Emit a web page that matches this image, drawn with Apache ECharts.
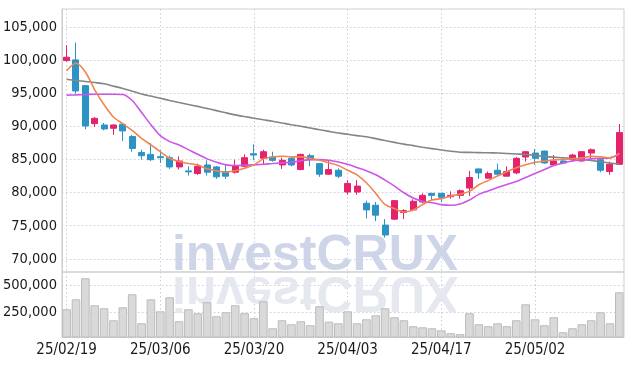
<!DOCTYPE html>
<html><head><meta charset="utf-8">
<script src="https://cdn.jsdelivr.net/npm/echarts@6/dist/echarts.min.js"></script>
<style>html,body{margin:0;padding:0;background:#fff}#c{width:634px;height:366px}</style>
</head><body><div id="c"></div>
<script>
const dates = ['25/02/19','25/02/20','25/02/21','25/02/24','25/02/25','25/02/26','25/02/27','25/02/28','25/03/04','25/03/05',
'25/03/06','25/03/07','25/03/10','25/03/11','25/03/12','25/03/13','25/03/14','25/03/17','25/03/18','25/03/19',
'25/03/20','25/03/21','25/03/24','25/03/25','25/03/26','25/03/27','25/03/28','25/03/31','25/04/01','25/04/02',
'25/04/03','25/04/04','25/04/07','25/04/08','25/04/09','25/04/10','25/04/11','25/04/14','25/04/15','25/04/16',
'25/04/17','25/04/18','25/04/21','25/04/22','25/04/23','25/04/24','25/04/25','25/04/28','25/04/29','25/04/30',
'25/05/02','25/05/07','25/05/08','25/05/09','25/05/12','25/05/13','25/05/14','25/05/15','25/05/16','25/05/19'];
const opens = [100000,100100,96200,90450,90250,89750,90350,88500,86100,85800,
85450,85300,83900,83300,82900,84200,83900,83200,83100,84000,
85900,85200,85400,84200,85200,83500,85600,84400,82800,83400,
80100,80100,78400,78100,75100,76000,77000,77400,78600,79900,
79900,79400,79600,80700,83600,82200,83400,82500,83000,85400,
86000,86300,84200,84800,85000,84800,86000,85000,83200,84300];
const closes = [100500,95400,90100,91250,89650,90250,89350,86700,85600,85000,
85300,83900,84800,83150,84000,83100,82400,82500,84100,85300,
85700,86200,84900,84900,84200,85800,85000,82800,83500,82500,
81400,81000,77400,76600,73600,78800,77300,78700,79600,79600,
79300,79600,80300,82300,83000,82900,82800,83200,85200,86200,
85200,84500,84800,84500,85700,86200,86500,83400,84300,89100];
const lows = [99800,95000,89600,89950,89450,88750,87850,86200,85000,84800,
84500,83600,83500,82600,82700,82600,82100,82100,82900,83900,
84900,84200,84700,83600,84000,83400,84000,82400,82700,82200,
79700,79700,76100,75700,73200,75900,76000,77200,78400,78900,
78600,79100,79100,79500,82100,82100,82700,82500,82800,84700,
84200,84400,84100,84300,84700,84700,84800,83100,82700,84200];
const highs = [102300,102700,96300,91450,90550,90350,90450,88750,86500,87500,
86400,85600,85500,84000,84400,84900,84000,84200,85000,85800,
87300,86500,86200,85300,85400,85900,85900,84500,84900,83700,
81900,81900,78800,78600,76000,78900,77500,79000,79900,79950,
80000,80200,80500,83300,83650,83200,84400,84000,85400,86300,
86600,86350,85700,85300,85900,86300,86700,85100,84700,90400];
const ma5 = [98460,99580,98270,95560,93300,91450,90440,89430,88230,87230,
86220,85210,84710,84410,84210,83610,83310,83100,83310,83700,
84210,85120,85420,85520,85420,85420,85210,84910,84520,84110,
83400,82710,81500,79900,78190,77590,77080,77380,78190,78890,
79100,79490,79790,80200,81200,81830,82530,83180,83770,84220,
84560,84790,84940,85040,85130,85270,85500,85420,85270,86000];
const ma10 = [94760,94800,94860,94910,94910,94910,94860,93950,92140,90290,
88630,87730,87230,86520,85810,85120,84610,84210,84110,84160,
84210,84310,84410,84520,84610,84820,85010,85010,84910,84660,
84310,83810,83310,82710,81900,81000,80000,79190,78690,78490,
78190,78090,78290,78890,79750,80270,80770,81240,81700,82300,
82900,83500,84110,84490,84790,84970,85120,85200,85270,85770];
const maLong = [97180,96990,96840,96670,96480,96130,95770,95360,94950,94620,
94290,93960,93640,93340,93060,92750,92420,92090,91780,91520,
91280,91040,90810,90540,90290,90050,89790,89530,89280,89040,
88840,88640,88460,88180,87890,87620,87350,87120,86880,86670,
86460,86270,86130,86100,86070,86040,86000,85940,85860,85790,
85650,85500,85380,85290,85170,85020,84870,84690,84490,84350];
const volumes = [275000,367000,562000,312000,284000,173000,293000,414000,145000,367000,
256000,386000,164000,275000,238000,340000,210000,247000,312000,238000,
192000,349000,99000,173000,136000,164000,127000,303000,160000,145000,
256000,145000,182000,219000,284000,201000,173000,118000,108000,99000,
80000,53000,44000,238000,136000,118000,145000,118000,173000,321000,
182000,127000,201000,62000,99000,136000,173000,247000,145000,432000];
const priceTicks = [70000,75000,80000,85000,90000,95000,100000,105000];
const volTicks = [250000,500000];

const FONT = "'Liberation Sans Narrow','DejaVu Sans Condensed','Roboto Condensed',Roboto,sans-serif";
const candles = opens.map((o,i)=>[o, closes[i], lows[i], highs[i]]);
const gridLine = {show:true, lineStyle:{color:'#c9cede', type:[1.5,2.5], width:1}};
const chart = echarts.init(document.getElementById('c'), null, {renderer:'canvas'});
chart.setOption({
  animation:false,
  backgroundColor:'#fff',
  grid:[
    {left:60, right:10, top:9, height:263, show:true, borderColor:'#cfcfcf', borderWidth:1, backgroundColor:'transparent'},
    {left:60, right:10, top:272, height:65, show:true, borderColor:'#cfcfcf', borderWidth:1, backgroundColor:'transparent'}
  ],
  graphic:[
    {type:'text', z:1, silent:true, x:315, y:281, style:{text:'investCRUX', font:"bold 50px 'Liberation Sans',Roboto,sans-serif", fill:'#cfd5e8', align:'center', verticalAlign:'bottom'}},
    {type:'text', z:1, silent:true, x:315, y:266, scaleY:-1, style:{text:'investCRUX', font:"bold 50px 'Liberation Sans',Roboto,sans-serif", fill:'#e6e8f0', align:'center', verticalAlign:'bottom'}}
  ],
  xAxis:[
    {type:'category', gridIndex:0, data:dates, boundaryGap:true,
     axisLine:{show:false}, axisTick:{show:false}, axisLabel:{show:false},
     splitLine:Object.assign({interval:9, alignWithLabel:true}, gridLine)},
    {type:'category', gridIndex:1, data:dates, boundaryGap:true,
     axisLine:{show:true, lineStyle:{color:'#cfcfcf'}}, axisTick:{show:false},
     axisLabel:{interval:9, color:'#1a1a1a', fontFamily:FONT, fontSize:15, margin:6},
     splitLine:Object.assign({interval:9, alignWithLabel:true}, gridLine)}
  ],
  yAxis:[
    {type:'value', gridIndex:0, min:68000, max:107800, scale:true,
     axisLine:{show:true, lineStyle:{color:'#cfcfcf'}},
     axisTick:{show:false, customValues:priceTicks},
     axisLabel:{customValues:priceTicks, color:'#1a1a1a', fontFamily:FONT, fontSize:14.5, margin:5, padding:[4,0,0,0],
       formatter:v=>v.toLocaleString('en-US')},
     splitLine:gridLine},
    {type:'value', gridIndex:1, min:18000, max:620000,
     axisLine:{show:true, lineStyle:{color:'#cfcfcf'}},
     axisTick:{show:false, customValues:volTicks},
     axisLabel:{customValues:volTicks, color:'#1a1a1a', fontFamily:FONT, fontSize:14.5, margin:5, padding:[4,0,0,0]},
     splitLine:gridLine}
  ],
  series:[
    {type:'bar', xAxisIndex:1, yAxisIndex:1, data:volumes, barCategoryGap:'8%', z:2,
     itemStyle:{color:'#d9d9d9', borderColor:'#bcbcbc', borderWidth:1}},
    {type:'candlestick', xAxisIndex:0, yAxisIndex:0, data:candles, barWidth:6.5, z:3,
     itemStyle:{color:'#e5236c', color0:'#2b93c6', borderColor:'#e5236c', borderColor0:'#2b93c6', borderWidth:1}},
    {type:'line', xAxisIndex:0, yAxisIndex:0, data:maLong, smooth:0.3, symbol:'none', z:4,
     lineStyle:{color:'#858585', width:1.6}},
    {type:'line', xAxisIndex:0, yAxisIndex:0, data:ma10, smooth:0.3, symbol:'none', z:4,
     lineStyle:{color:'#cc55e8', width:1.6}},
    {type:'line', xAxisIndex:0, yAxisIndex:0, data:ma5, smooth:0.3, symbol:'none', z:5,
     lineStyle:{color:'#ef8650', width:1.6}}
  ]
});
</script></body></html>
